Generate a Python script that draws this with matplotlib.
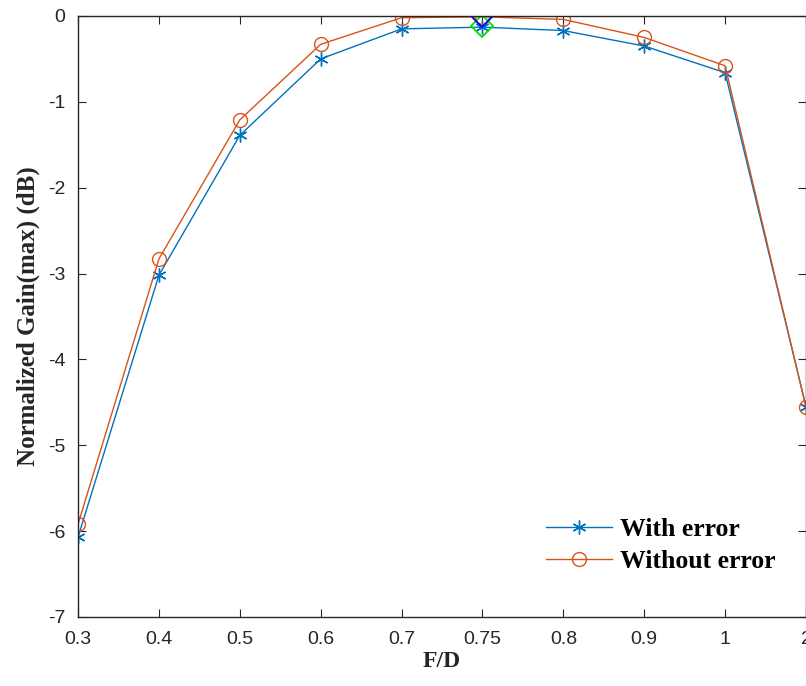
import numpy as np
import matplotlib.pyplot as plt

# category ticks (equally spaced on the axis)
fd_labels = ['0.3', '0.4', '0.5', '0.6', '0.7', '0.75', '0.8', '0.9', '1', '2']

# normalized max gain (dB)
gain_with_error = [-6.07, -3.02, -1.39, -0.50, -0.15, -0.13, -0.17, -0.35, -0.66, -4.55]
gain_without_error = [-5.92, -2.83, -1.21, -0.33, -0.02, -0.01, -0.04, -0.25, -0.58, -4.56]

# extra markers at F/D = 0.75
diamond_label = '0.75'
diamond_blue = -0.01
diamond_green = -0.12

y_ticks = [-7, -6, -5, -4, -3, -2, -1, 0]

if __name__ == "__main__":

    blue = '#0072BD'
    orange = '#D95319'
    x = np.arange(len(fd_labels))
    xd = fd_labels.index(diamond_label)

    fig = plt.figure(figsize=(8.06, 6.86), dpi=100)
    ax = fig.add_axes([0.0968, 0.1006, 0.9032, 0.8761])

    asterisk = (6, 2, 0)
    ax.plot(x, gain_with_error, color=blue, lw=1.0, marker=asterisk,
            markersize=10, markeredgewidth=1.0, label='With error')
    ax.plot(x, gain_without_error, color=orange, lw=1.0, marker='o',
            markersize=10, markerfacecolor='none', markeredgewidth=1.0,
            label='Without error')
    ax.plot([xd], [diamond_green], linestyle='none', marker='D', markersize=11,
            markerfacecolor='none', markeredgecolor='#00E000', markeredgewidth=1.3)
    ax.plot([xd], [diamond_blue], linestyle='none', marker='D', markersize=10,
            markerfacecolor='none', markeredgecolor='#0000FF', markeredgewidth=1.3)

    ax.set_xlim(0, len(fd_labels) - 1)
    ax.set_ylim(-7, 0)
    ax.set_xticks(x)
    ax.set_xticklabels(fd_labels)
    ax.set_yticks(y_ticks)
    ax.set_yticklabels([str(v) for v in y_ticks])

    for s in ax.spines.values():
        s.set_color('#262626')
        s.set_linewidth(1.0)
    ax.tick_params(direction='in', length=6, width=0.8, color='#262626',
                   top=True, right=True, labelsize=14, labelcolor='#262626')
    ax.tick_params(axis='x', pad=10)
    ax.tick_params(axis='y', pad=9)
    for lab in ax.get_xticklabels() + ax.get_yticklabels():
        lab.set_family('Liberation Sans')

    ax.set_xlabel('F/D', family='Liberation Serif', fontweight='bold', fontsize=17,
                  color='#262626', labelpad=2)
    ax.set_ylabel('Normalized Gain(max) (dB)', family='Liberation Serif',
                  fontweight='bold', fontsize=18, color='#262626', labelpad=6)

    leg = ax.legend(loc='lower right', bbox_to_anchor=(0.99, 0.035), frameon=False,
                    prop={'family': 'Liberation Serif', 'weight': 'bold', 'size': 18.5},
                    handlelength=2.6, handletextpad=0.3, labelspacing=0.35)

    plt.savefig('out.png', dpi=100)
